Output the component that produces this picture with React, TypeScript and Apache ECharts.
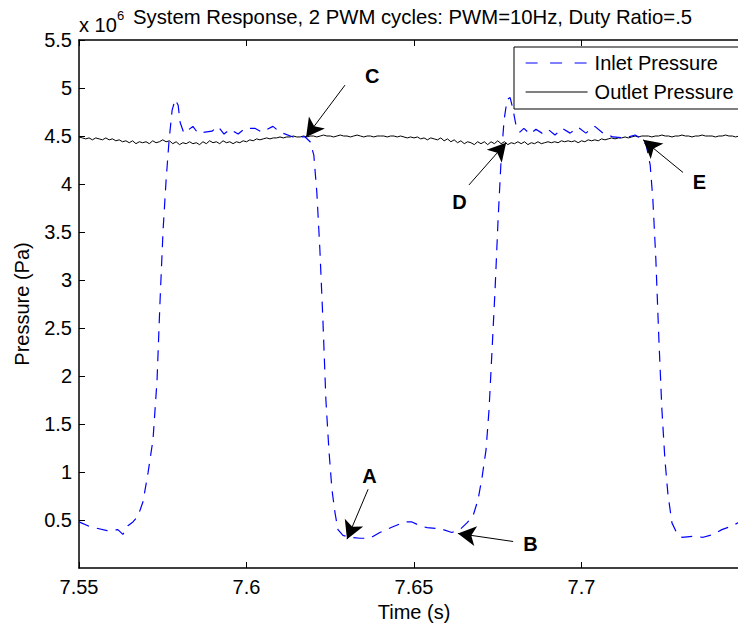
import React, { useEffect, useRef } from "react";
import * as echarts from "echarts";

// ---- data (pressure in units of 10^6 Pa) ----
const inletTime = [
  7.55, 7.5533, 7.5584, 7.5616, 7.5631, 7.5646, 7.5661, 7.5676, 7.5691, 7.5706,
  7.5721, 7.5733, 7.5742, 7.5751, 7.576, 7.5769, 7.5778, 7.5787, 7.5796, 7.5802,
  7.5813, 7.5825, 7.584, 7.5855, 7.5876, 7.5897, 7.5915, 7.5933, 7.5951, 7.5975,
  7.5996, 7.6025, 7.6046, 7.6079, 7.61, 7.6139, 7.6175, 7.619, 7.6201, 7.621,
  7.6219, 7.6228, 7.6237, 7.6246, 7.6255, 7.6264, 7.6273, 7.6288, 7.6309, 7.6339,
  7.6369, 7.6398, 7.6437, 7.6473, 7.6494, 7.6518, 7.6539, 7.6578, 7.6613, 7.6637,
  7.6658, 7.6676, 7.6691, 7.6703, 7.6715, 7.6724, 7.6733, 7.6742, 7.6751, 7.676,
  7.6769, 7.6778, 7.6787, 7.6796, 7.6804, 7.6816, 7.6828, 7.6846, 7.6864, 7.6882,
  7.69, 7.6921, 7.6942, 7.6966, 7.699, 7.7013, 7.704, 7.7064, 7.7094, 7.713,
  7.716, 7.7175, 7.7193, 7.7205, 7.7213, 7.7222, 7.7231, 7.724, 7.7249, 7.7258,
  7.727, 7.7285, 7.73, 7.7333, 7.7363, 7.7393, 7.7419, 7.7443, 7.7467, 7.75,
];
const inletPressure = [
  0.48, 0.43, 0.39, 0.4, 0.35, 0.44, 0.48, 0.54, 0.69, 0.99,
  1.34, 1.96, 2.79, 3.52, 4.04, 4.46, 4.77, 4.88, 4.82, 4.64,
  4.53, 4.56, 4.6, 4.53, 4.54, 4.55, 4.6, 4.52, 4.57, 4.52,
  4.58, 4.58, 4.54, 4.6, 4.54, 4.49, 4.49, 4.44, 4.3, 3.91,
  3.32, 2.59, 1.75, 1.23, 0.82, 0.58, 0.4, 0.34, 0.32, 0.31,
  0.31, 0.37, 0.43, 0.48, 0.48, 0.44, 0.42, 0.41, 0.37, 0.4,
  0.47, 0.54, 0.71, 0.94, 1.23, 1.65, 2.27, 2.9, 3.63, 4.25,
  4.67, 4.88, 4.9, 4.77, 4.62, 4.54, 4.58, 4.52, 4.57, 4.53,
  4.57, 4.51, 4.58, 4.53, 4.59, 4.53, 4.6, 4.53, 4.49, 4.48,
  4.51, 4.48, 4.41, 4.2, 3.84, 3.21, 2.38, 1.65, 1.13, 0.77,
  0.47, 0.36, 0.32, 0.33, 0.32, 0.35, 0.4, 0.43, 0.47, 0.51,
];

// outlet pressure sampled every 1 ms from 7.550 s
const outletStart = 7.55;
const outletStep = 0.001;
const outletPressure = [
  4.49, 4.48, 4.47, 4.48, 4.46, 4.48, 4.47, 4.46, 4.48, 4.46,
  4.47, 4.45, 4.46, 4.44, 4.45, 4.43, 4.45, 4.42, 4.44, 4.43,
  4.44, 4.42, 4.45, 4.43, 4.44, 4.46, 4.44, 4.45, 4.42, 4.44,
  4.41, 4.43, 4.42, 4.44, 4.42, 4.43, 4.41, 4.44, 4.42, 4.45,
  4.43, 4.44, 4.42, 4.45, 4.43, 4.44, 4.42, 4.44, 4.43, 4.45,
  4.44, 4.46, 4.45, 4.47, 4.46, 4.47, 4.48, 4.47, 4.48, 4.48,
  4.49, 4.48, 4.49, 4.49, 4.5, 4.49, 4.49, 4.5, 4.49, 4.5,
  4.5, 4.49, 4.5, 4.51, 4.5, 4.5, 4.49, 4.5, 4.51, 4.5,
  4.5, 4.49, 4.5, 4.51, 4.5, 4.49, 4.5, 4.5, 4.49, 4.5,
  4.5, 4.5, 4.49, 4.5, 4.5, 4.49, 4.5, 4.49, 4.48, 4.49,
  4.48, 4.49, 4.47, 4.48, 4.46, 4.48, 4.47, 4.46, 4.48, 4.45,
  4.47, 4.44, 4.46, 4.43, 4.45, 4.42, 4.44, 4.43, 4.41, 4.44,
  4.42, 4.44, 4.41, 4.44, 4.42, 4.45, 4.42, 4.44, 4.41, 4.43,
  4.42, 4.44, 4.42, 4.44, 4.41, 4.43, 4.42, 4.44, 4.42, 4.43,
  4.44, 4.43, 4.44, 4.43, 4.45, 4.44, 4.45, 4.44, 4.45, 4.43,
  4.45, 4.44, 4.46, 4.45, 4.46, 4.45, 4.47, 4.46, 4.47, 4.48,
  4.47, 4.48, 4.48, 4.49, 4.48, 4.49, 4.5, 4.49, 4.5, 4.5,
  4.5, 4.49, 4.5, 4.5, 4.51, 4.5, 4.5, 4.49, 4.5, 4.5,
  4.51, 4.5, 4.5, 4.49, 4.5, 4.5, 4.51, 4.5, 4.5, 4.5,
  4.49, 4.5, 4.5, 4.51, 4.5, 4.5, 4.49, 4.5, 4.5, 4.5,
  4.5,
];

// annotations: label position, arrow start, arrow tip (time, pressure)
const annotationNames = ["A", "B", "C", "D", "E"];
const annotationLabelAt = [
  [7.6367, 0.96], [7.6848, 0.245], [7.6375, 5.125], [7.6636, 3.81], [7.7352, 4.02],
];
const annotationArrowFrom = [
  [7.6363, 0.82], [7.6796, 0.276], [7.6294, 5.03], [7.6664, 3.99], [7.7303, 4.12],
];
const annotationArrowTo = [
  [7.63, 0.3], [7.6631, 0.36], [7.6178, 4.49], [7.6775, 4.43], [7.7184, 4.46],
];

const xTicks = { min: 7.55, max: 7.75, interval: 0.05 };
const yTicks = { min: 0, max: 5.5, interval: 0.5 };

const FONT = "'Liberation Sans', Arial, Helvetica, sans-serif";

export default function App() {
  const ref = useRef<HTMLDivElement>(null);

  useEffect(() => {
    if (!ref.current) return;
    const chart = echarts.init(ref.current, undefined, { renderer: "svg" });

    const inletData = inletTime.map((t, i) => [t, inletPressure[i]]);
    const outletData = outletPressure.map((p, i) => [
      +(outletStart + i * outletStep).toFixed(3),
      p,
    ]);

    const axisLineStyle = { color: "#000", width: 1.5 };
    const tickStyle = { show: true, inside: true, length: 6, lineStyle: { color: "#000", width: 1 } };

    chart.setOption({
      animation: false,
      backgroundColor: "#fff",
      textStyle: { fontFamily: FONT },
      title: {
        text: "System Response, 2 PWM cycles: PWM=10Hz, Duty Ratio=.5",
        left: 128,
        top: 2,
        textStyle: { fontSize: 20.3, fontWeight: "normal", color: "#000", fontFamily: FONT },
      },
      graphic: [
        {
          type: "text",
          left: 79,
          top: 15,
          style: { text: "x 10", fontSize: 20, fill: "#000", fontFamily: FONT },
        },
        {
          type: "text",
          left: 117,
          top: 9,
          style: { text: "6", fontSize: 13, fill: "#000", fontFamily: FONT },
        },
      ],
      legend: {
        orient: "vertical",
        left: 514,
        top: 47,
        padding: [6, 30, 7, 11],
        itemWidth: 62,
        itemHeight: 14,
        itemGap: 9,
        backgroundColor: "#fff",
        borderColor: "#000",
        borderWidth: 1,
        borderRadius: 0,
        itemStyle: { opacity: 0 },
        textStyle: { fontSize: 20, color: "#000", fontFamily: FONT, padding: [0, 0, 0, 2] },
        data: [
          { name: "Inlet Pressure", lineStyle: { type: [12, 12.5], width: 1.2, color: "#0000ff" } },
          { name: "Outlet Pressure", lineStyle: { type: "solid", width: 1, color: "#000" } },
        ],
      },
      grid: { left: 79, top: 40, right: 11, bottom: 59, containLabel: false },
      xAxis: [
        {
          type: "value",
          min: xTicks.min,
          max: xTicks.max,
          interval: xTicks.interval,
          name: "Time (s)",
          nameLocation: "middle",
          nameGap: 33,
          nameTextStyle: { fontSize: 20, color: "#000", fontFamily: FONT },
          axisLine: { show: true, onZero: false, lineStyle: axisLineStyle },
          axisTick: tickStyle,
          axisLabel: {
            fontSize: 20,
            color: "#000",
            margin: 9,
            showMaxLabel: false,
            fontFamily: FONT,
          },
          splitLine: { show: false },
        },
        {
          type: "value",
          position: "top",
          min: xTicks.min,
          max: xTicks.max,
          interval: xTicks.interval,
          axisLine: { show: true, onZero: false, lineStyle: axisLineStyle },
          axisTick: tickStyle,
          axisLabel: { show: false },
          splitLine: { show: false },
        },
      ],
      yAxis: {
        type: "value",
        min: yTicks.min,
        max: yTicks.max,
        interval: yTicks.interval,
        name: "Pressure (Pa)",
        nameLocation: "middle",
        nameGap: 47,
        nameTextStyle: { fontSize: 20, color: "#000", fontFamily: FONT },
        axisLine: { show: true, onZero: false, lineStyle: axisLineStyle },
        axisTick: tickStyle,
        axisLabel: {
          fontSize: 20,
          color: "#000",
          margin: 7,
          showMinLabel: false,
          fontFamily: FONT,
        },
        splitLine: { show: false },
      },
      series: [
        {
          name: "Inlet Pressure",
          type: "line",
          data: inletData,
          symbol: "none",
          showSymbol: false,
          smooth: false,
          lineStyle: { color: "#0000ff", width: 1.2, type: [11, 8] },
          itemStyle: { color: "#0000ff" },
          emphasis: { disabled: true },
          z: 3,
        },
        {
          name: "Outlet Pressure",
          type: "line",
          data: outletData,
          symbol: "none",
          showSymbol: false,
          lineStyle: { color: "#000", width: 1 },
          itemStyle: { color: "#000" },
          emphasis: { disabled: true },
          z: 2,
          markLine: {
            silent: true,
            symbol: ["none", "arrow"],
            symbolSize: [15, 18],
            label: { show: false },
            lineStyle: { color: "#000", width: 1, type: "solid" },
            emphasis: { disabled: true },
            data: annotationNames.map((_, i) => [
              { coord: annotationArrowFrom[i] },
              { coord: annotationArrowTo[i] },
            ]),
          },
          markPoint: {
            silent: true,
            symbol: "circle",
            symbolSize: 0,
            label: {
              show: true,
              position: "inside",
              formatter: "{b}",
              fontSize: 20,
              fontWeight: "bold",
              color: "#000",
              fontFamily: FONT,
            },
            itemStyle: { color: "transparent" },
            data: annotationNames.map((n, i) => ({ name: n, coord: annotationLabelAt[i] })),
          },
        },
      ],
    });

    return () => chart.dispose();
  }, []);

  return (
    <div
      style={{
        position: "absolute",
        left: 0,
        top: 0,
        width: 738,
        height: 627,
        overflow: "hidden",
        background: "#fff",
      }}
    >
      <div ref={ref} style={{ width: 760, height: 627 }} />
    </div>
  );
}
